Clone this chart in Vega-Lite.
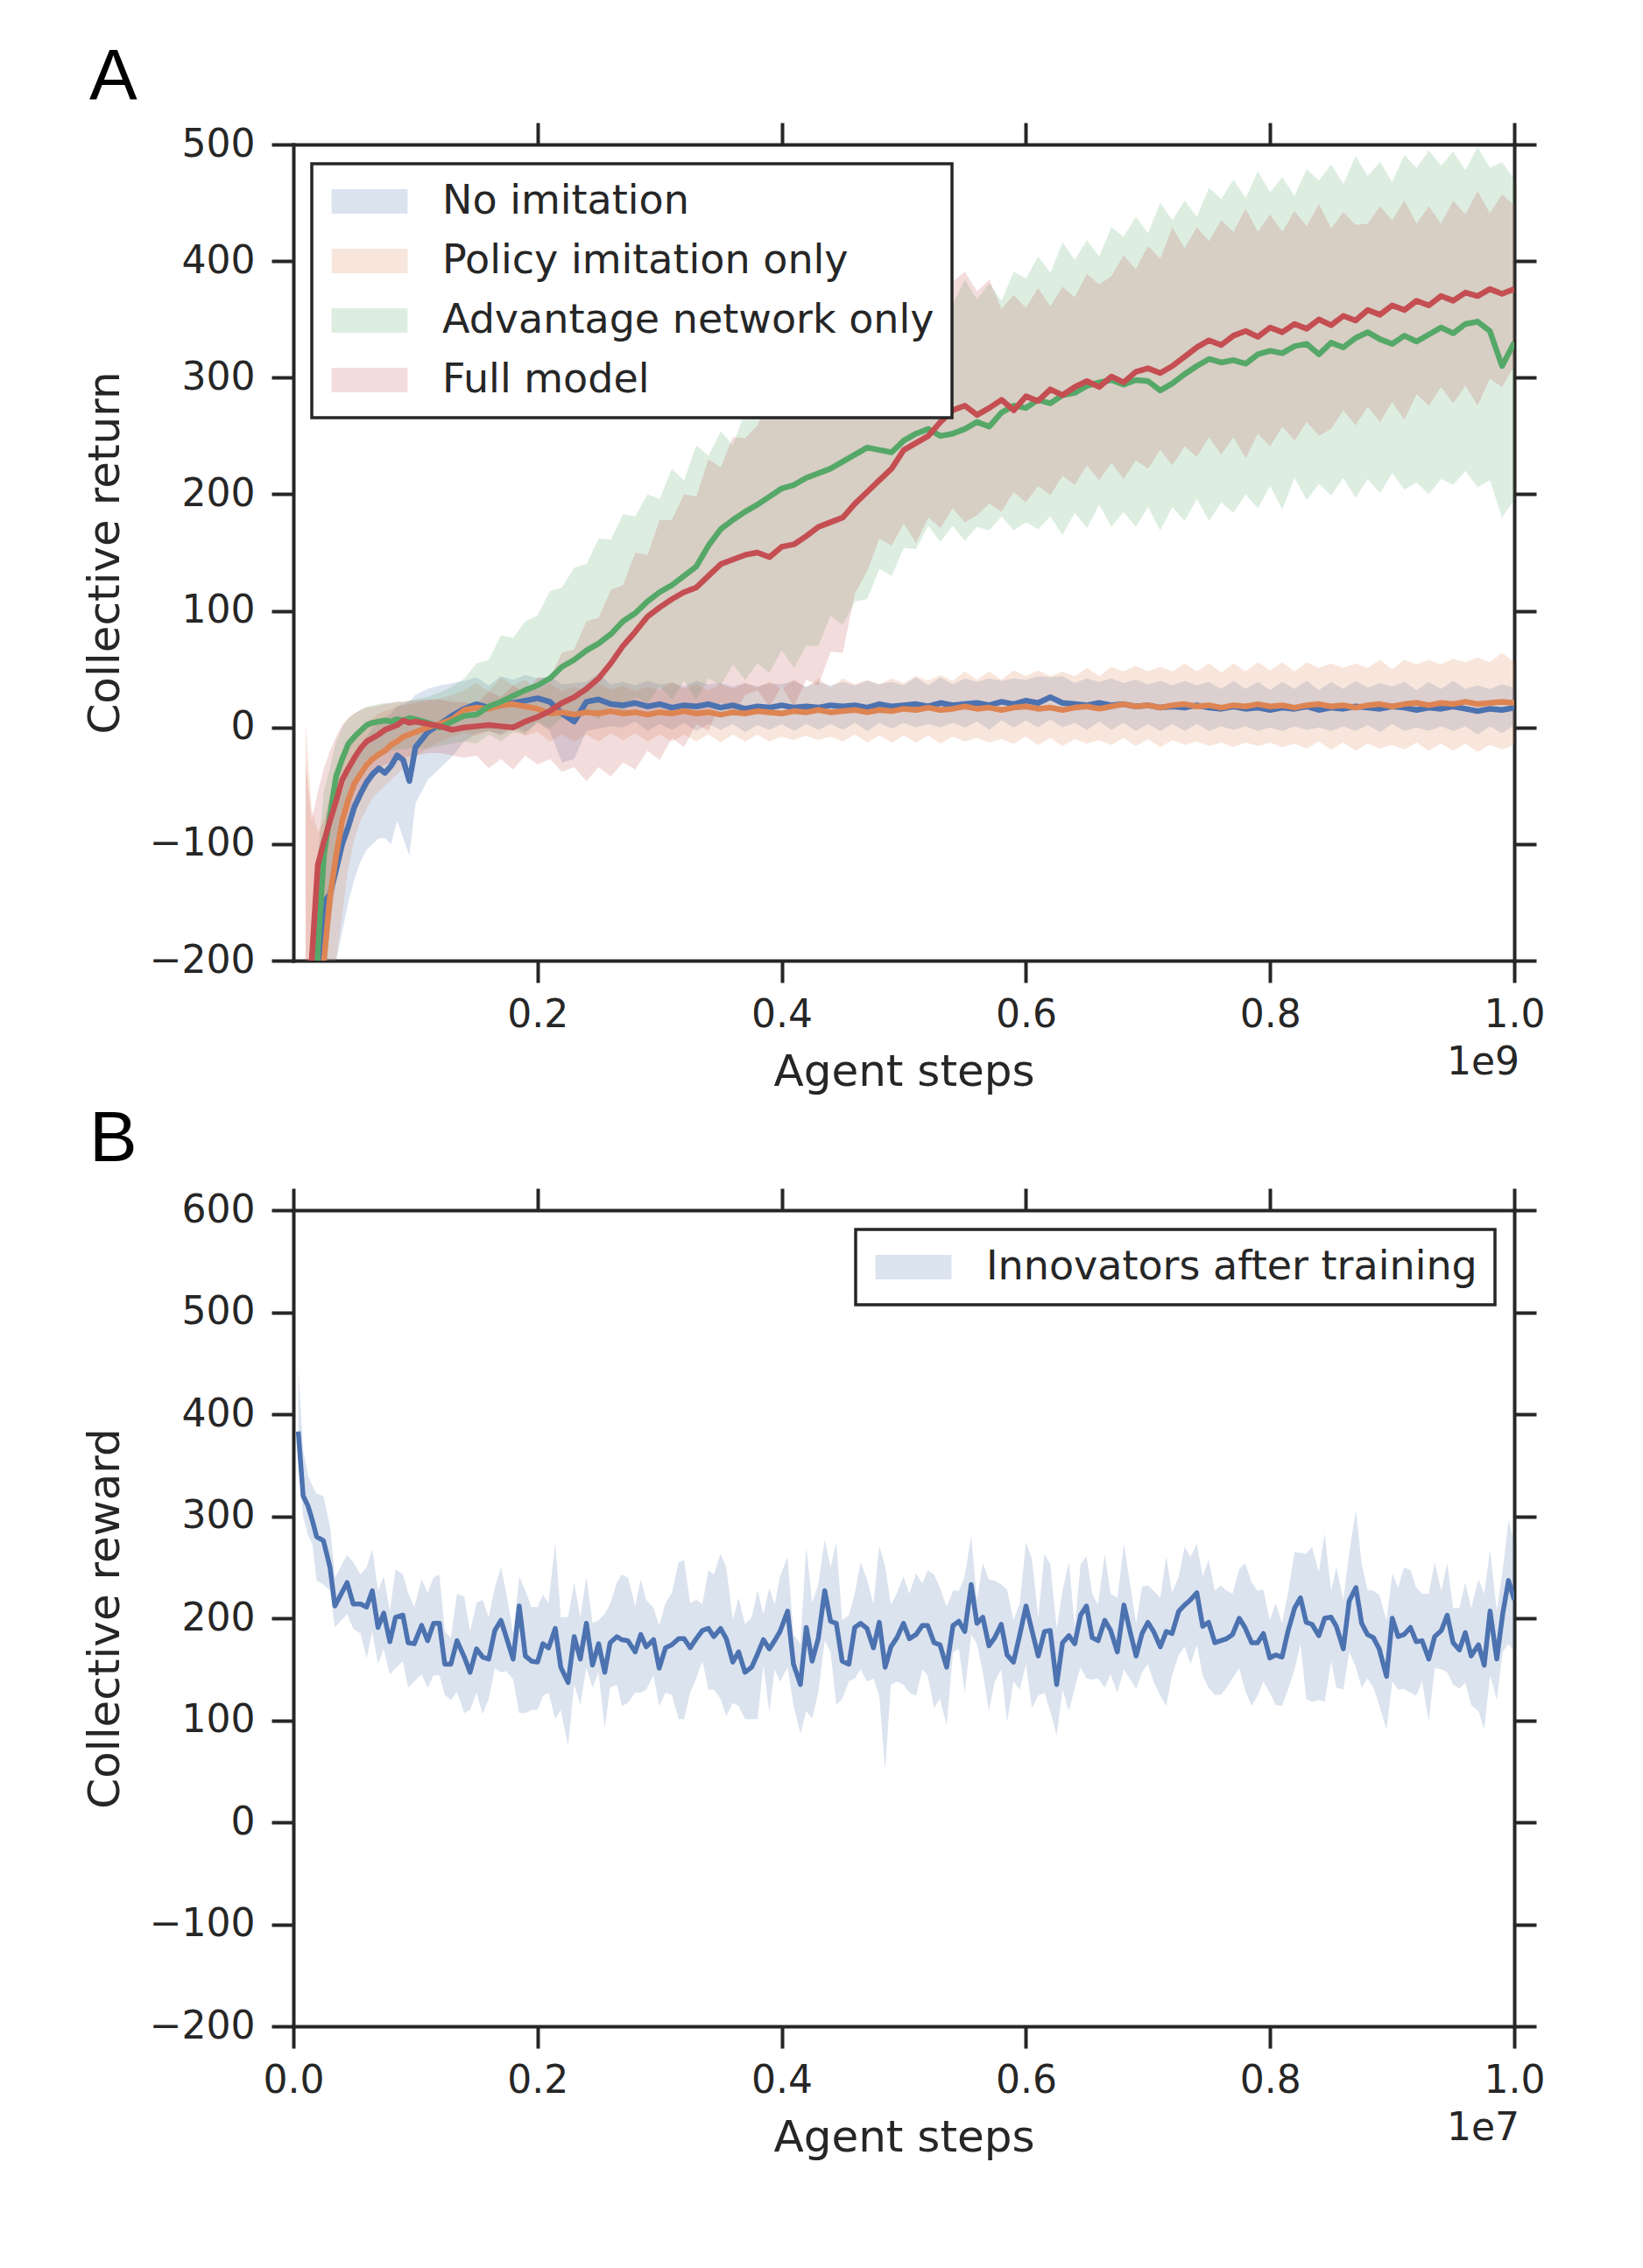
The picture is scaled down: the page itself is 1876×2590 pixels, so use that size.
{
  "$schema": "https://vega.github.io/schema/vega-lite/v6.json",
  "background": "white",
  "padding": {"left": 95, "top": 47, "right": 40, "bottom": 40},
  "spacing": 11,
  "resolve": {"scale": {"fill": "independent", "stroke": "independent"}, "legend": {"fill": "independent"}},
  "config": {
    "view": {"stroke": null},
    "font": "DejaVu Sans",
    "axis": {
      "domainColor": "#262626", "domainWidth": 4, "domainCap": "square",
      "tickColor": "#262626", "tickWidth": 4, "tickSize": 25,
      "labelFont": "DejaVu Sans", "labelFontSize": 44, "labelColor": "#262626", "labelPadding": 15,
      "labelOverlap": false, "labelFlush": false,
      "titleFont": "DejaVu Sans", "titleFontSize": 50, "titleFontWeight": "normal", "titleColor": "#262626", "titlePadding": 18,
      "grid": false
    },
    "legend": {
      "fillColor": "white", "strokeColor": "#262626", "strokeWidth": 3.5, "cornerRadius": 0,
      "padding": 20, "rowPadding": 22,
      "symbolType": "M-3.1,-1H3.1V1H-3.1Z", "symbolSize": 784, "symbolOffset": 23, "symbolOpacity": 0.2, "symbolStrokeWidth": 0,
      "labelFont": "DejaVu Sans", "labelFontSize": 46, "labelColor": "#262626", "labelOffset": 60, "labelLimit": 1000
    },
    "title": {"font": "Liberation Sans", "fontSize": 82, "fontWeight": "normal", "color": "black", "anchor": "start", "frame": "group"}
  },
  "datasets": {
    "a": [
      {"s":"No imitation","x":0.015,"y":-300,"lo":-420,"hi":-220},
      {"s":"No imitation","x":0.02,"y":-215,"lo":-330,"hi":-130},
      {"s":"No imitation","x":0.025,"y":-150,"lo":-270,"hi":-100},
      {"s":"No imitation","x":0.03,"y":-143,"lo":-240,"hi":-90},
      {"s":"No imitation","x":0.035,"y":-122,"lo":-200,"hi":-70},
      {"s":"No imitation","x":0.04,"y":-100,"lo":-175,"hi":-55},
      {"s":"No imitation","x":0.045,"y":-85,"lo":-150,"hi":-40},
      {"s":"No imitation","x":0.05,"y":-68,"lo":-130,"hi":-25},
      {"s":"No imitation","x":0.055,"y":-57,"lo":-115,"hi":-15},
      {"s":"No imitation","x":0.06,"y":-47,"lo":-105,"hi":-8},
      {"s":"No imitation","x":0.065,"y":-40,"lo":-100,"hi":0},
      {"s":"No imitation","x":0.07,"y":-35,"lo":-95,"hi":5},
      {"s":"No imitation","x":0.075,"y":-39,"lo":-95,"hi":8},
      {"s":"No imitation","x":0.08,"y":-33,"lo":-100,"hi":12},
      {"s":"No imitation","x":0.085,"y":-24,"lo":-80,"hi":18},
      {"s":"No imitation","x":0.09,"y":-28,"lo":-95,"hi":20},
      {"s":"No imitation","x":0.095,"y":-46,"lo":-110,"hi":22},
      {"s":"No imitation","x":0.1,"y":-17,"lo":-65,"hi":28},
      {"s":"No imitation","x":0.11,"y":-4,"lo":-45,"hi":33},
      {"s":"No imitation","x":0.12,"y":3,"lo":-35,"hi":36},
      {"s":"No imitation","x":0.13,"y":10,"lo":-25,"hi":38},
      {"s":"No imitation","x":0.14,"y":16,"lo":-12,"hi":40},
      {"s":"No imitation","x":0.15,"y":20,"lo":-5,"hi":43},
      {"s":"No imitation","x":0.16,"y":17,"lo":-3,"hi":36},
      {"s":"No imitation","x":0.17,"y":19,"lo":-6,"hi":44},
      {"s":"No imitation","x":0.18,"y":21,"lo":1,"hi":41},
      {"s":"No imitation","x":0.19,"y":23,"lo":-4,"hi":45},
      {"s":"No imitation","x":0.2,"y":25,"lo":4,"hi":42},
      {"s":"No imitation","x":0.21,"y":22,"lo":-3,"hi":44},
      {"s":"No imitation","x":0.22,"y":12,"lo":-30,"hi":37},
      {"s":"No imitation","x":0.23,"y":5,"lo":-27,"hi":38},
      {"s":"No imitation","x":0.24,"y":22,"lo":-3,"hi":39},
      {"s":"No imitation","x":0.25,"y":24,"lo":-1,"hi":46},
      {"s":"No imitation","x":0.26,"y":20,"lo":1,"hi":37},
      {"s":"No imitation","x":0.27,"y":19,"lo":0,"hi":39},
      {"s":"No imitation","x":0.28,"y":21,"lo":5,"hi":36},
      {"s":"No imitation","x":0.29,"y":18,"lo":-3,"hi":40},
      {"s":"No imitation","x":0.3,"y":20,"lo":3,"hi":37},
      {"s":"No imitation","x":0.31,"y":17,"lo":-2,"hi":38},
      {"s":"No imitation","x":0.32,"y":19,"lo":4,"hi":35},
      {"s":"No imitation","x":0.33,"y":18,"lo":-3,"hi":40},
      {"s":"No imitation","x":0.34,"y":20,"lo":3,"hi":37},
      {"s":"No imitation","x":0.35,"y":17,"lo":-2,"hi":38},
      {"s":"No imitation","x":0.36,"y":19,"lo":3,"hi":35},
      {"s":"No imitation","x":0.37,"y":16,"lo":-4,"hi":38},
      {"s":"No imitation","x":0.38,"y":18,"lo":2,"hi":35},
      {"s":"No imitation","x":0.39,"y":17,"lo":-2,"hi":38},
      {"s":"No imitation","x":0.4,"y":19,"lo":3,"hi":37},
      {"s":"No imitation","x":0.41,"y":17,"lo":-3,"hi":40},
      {"s":"No imitation","x":0.42,"y":18,"lo":3,"hi":35},
      {"s":"No imitation","x":0.43,"y":17,"lo":-2,"hi":39},
      {"s":"No imitation","x":0.44,"y":19,"lo":3,"hi":36},
      {"s":"No imitation","x":0.45,"y":18,"lo":-2,"hi":39},
      {"s":"No imitation","x":0.46,"y":19,"lo":4,"hi":36},
      {"s":"No imitation","x":0.47,"y":17,"lo":-3,"hi":40},
      {"s":"No imitation","x":0.48,"y":20,"lo":4,"hi":37},
      {"s":"No imitation","x":0.49,"y":18,"lo":-1,"hi":39},
      {"s":"No imitation","x":0.5,"y":19,"lo":4,"hi":36},
      {"s":"No imitation","x":0.51,"y":20,"lo":0,"hi":43},
      {"s":"No imitation","x":0.52,"y":18,"lo":3,"hi":36},
      {"s":"No imitation","x":0.53,"y":21,"lo":0,"hi":43},
      {"s":"No imitation","x":0.54,"y":19,"lo":4,"hi":37},
      {"s":"No imitation","x":0.55,"y":20,"lo":0,"hi":42},
      {"s":"No imitation","x":0.56,"y":21,"lo":5,"hi":39},
      {"s":"No imitation","x":0.57,"y":19,"lo":-2,"hi":42},
      {"s":"No imitation","x":0.58,"y":22,"lo":6,"hi":40},
      {"s":"No imitation","x":0.59,"y":20,"lo":0,"hi":42},
      {"s":"No imitation","x":0.6,"y":23,"lo":6,"hi":41},
      {"s":"No imitation","x":0.61,"y":21,"lo":0,"hi":44},
      {"s":"No imitation","x":0.62,"y":26,"lo":7,"hi":43},
      {"s":"No imitation","x":0.63,"y":21,"lo":0,"hi":44},
      {"s":"No imitation","x":0.64,"y":20,"lo":4,"hi":38},
      {"s":"No imitation","x":0.65,"y":19,"lo":-2,"hi":42},
      {"s":"No imitation","x":0.66,"y":21,"lo":5,"hi":39},
      {"s":"No imitation","x":0.67,"y":19,"lo":-2,"hi":42},
      {"s":"No imitation","x":0.68,"y":20,"lo":4,"hi":38},
      {"s":"No imitation","x":0.69,"y":18,"lo":-3,"hi":41},
      {"s":"No imitation","x":0.7,"y":19,"lo":3,"hi":37},
      {"s":"No imitation","x":0.71,"y":17,"lo":-3,"hi":40},
      {"s":"No imitation","x":0.72,"y":18,"lo":3,"hi":36},
      {"s":"No imitation","x":0.73,"y":17,"lo":-3,"hi":40},
      {"s":"No imitation","x":0.74,"y":19,"lo":3,"hi":36},
      {"s":"No imitation","x":0.75,"y":17,"lo":-3,"hi":39},
      {"s":"No imitation","x":0.76,"y":16,"lo":1,"hi":33},
      {"s":"No imitation","x":0.77,"y":18,"lo":-2,"hi":40},
      {"s":"No imitation","x":0.78,"y":16,"lo":1,"hi":33},
      {"s":"No imitation","x":0.79,"y":17,"lo":-3,"hi":39},
      {"s":"No imitation","x":0.8,"y":15,"lo":0,"hi":32},
      {"s":"No imitation","x":0.81,"y":17,"lo":-3,"hi":39},
      {"s":"No imitation","x":0.82,"y":16,"lo":1,"hi":33},
      {"s":"No imitation","x":0.83,"y":18,"lo":-2,"hi":40},
      {"s":"No imitation","x":0.84,"y":15,"lo":0,"hi":32},
      {"s":"No imitation","x":0.85,"y":17,"lo":-3,"hi":39},
      {"s":"No imitation","x":0.86,"y":16,"lo":1,"hi":33},
      {"s":"No imitation","x":0.87,"y":18,"lo":-3,"hi":40},
      {"s":"No imitation","x":0.88,"y":17,"lo":2,"hi":34},
      {"s":"No imitation","x":0.89,"y":16,"lo":-4,"hi":38},
      {"s":"No imitation","x":0.9,"y":18,"lo":3,"hi":35},
      {"s":"No imitation","x":0.91,"y":17,"lo":-3,"hi":39},
      {"s":"No imitation","x":0.92,"y":15,"lo":0,"hi":32},
      {"s":"No imitation","x":0.93,"y":17,"lo":-3,"hi":39},
      {"s":"No imitation","x":0.94,"y":16,"lo":1,"hi":33},
      {"s":"No imitation","x":0.95,"y":18,"lo":-3,"hi":40},
      {"s":"No imitation","x":0.96,"y":16,"lo":1,"hi":33},
      {"s":"No imitation","x":0.97,"y":14,"lo":-6,"hi":36},
      {"s":"No imitation","x":0.98,"y":16,"lo":1,"hi":33},
      {"s":"No imitation","x":0.99,"y":15,"lo":-5,"hi":37},
      {"s":"No imitation","x":1.0,"y":17,"lo":2,"hi":34},

      {"s":"Policy imitation only","x":0.01,"y":-350,"lo":-500,"hi":5},
      {"s":"Policy imitation only","x":0.015,"y":-330,"lo":-450,"hi":-70},
      {"s":"Policy imitation only","x":0.02,"y":-280,"lo":-400,"hi":-90},
      {"s":"Policy imitation only","x":0.025,"y":-200,"lo":-330,"hi":-80},
      {"s":"Policy imitation only","x":0.03,"y":-145,"lo":-260,"hi":-60},
      {"s":"Policy imitation only","x":0.035,"y":-110,"lo":-200,"hi":-45},
      {"s":"Policy imitation only","x":0.04,"y":-80,"lo":-160,"hi":-30},
      {"s":"Policy imitation only","x":0.045,"y":-62,"lo":-120,"hi":-18},
      {"s":"Policy imitation only","x":0.05,"y":-48,"lo":-95,"hi":-8},
      {"s":"Policy imitation only","x":0.055,"y":-40,"lo":-80,"hi":0},
      {"s":"Policy imitation only","x":0.06,"y":-32,"lo":-70,"hi":5},
      {"s":"Policy imitation only","x":0.065,"y":-27,"lo":-60,"hi":8},
      {"s":"Policy imitation only","x":0.07,"y":-23,"lo":-55,"hi":12},
      {"s":"Policy imitation only","x":0.075,"y":-20,"lo":-50,"hi":14},
      {"s":"Policy imitation only","x":0.08,"y":-15,"lo":-45,"hi":16},
      {"s":"Policy imitation only","x":0.085,"y":-12,"lo":-40,"hi":18},
      {"s":"Policy imitation only","x":0.09,"y":-8,"lo":-35,"hi":19},
      {"s":"Policy imitation only","x":0.095,"y":-6,"lo":-30,"hi":20},
      {"s":"Policy imitation only","x":0.1,"y":-4,"lo":-25,"hi":21},
      {"s":"Policy imitation only","x":0.11,"y":0,"lo":-18,"hi":23},
      {"s":"Policy imitation only","x":0.12,"y":3,"lo":-12,"hi":25},
      {"s":"Policy imitation only","x":0.13,"y":7,"lo":-8,"hi":28},
      {"s":"Policy imitation only","x":0.14,"y":15,"lo":-5,"hi":32},
      {"s":"Policy imitation only","x":0.15,"y":17,"lo":-7,"hi":38},
      {"s":"Policy imitation only","x":0.16,"y":16,"lo":-3,"hi":31},
      {"s":"Policy imitation only","x":0.17,"y":19,"lo":-7,"hi":43},
      {"s":"Policy imitation only","x":0.18,"y":20,"lo":-1,"hi":36},
      {"s":"Policy imitation only","x":0.19,"y":18,"lo":-7,"hi":41},
      {"s":"Policy imitation only","x":0.2,"y":16,"lo":-4,"hi":32},
      {"s":"Policy imitation only","x":0.21,"y":12,"lo":-12,"hi":38},
      {"s":"Policy imitation only","x":0.22,"y":13,"lo":-6,"hi":31},
      {"s":"Policy imitation only","x":0.23,"y":11,"lo":-12,"hi":35},
      {"s":"Policy imitation only","x":0.24,"y":13,"lo":-6,"hi":30},
      {"s":"Policy imitation only","x":0.25,"y":12,"lo":-12,"hi":38},
      {"s":"Policy imitation only","x":0.26,"y":14,"lo":-5,"hi":32},
      {"s":"Policy imitation only","x":0.27,"y":12,"lo":-11,"hi":36},
      {"s":"Policy imitation only","x":0.28,"y":13,"lo":-5,"hi":31},
      {"s":"Policy imitation only","x":0.29,"y":11,"lo":-12,"hi":35},
      {"s":"Policy imitation only","x":0.3,"y":13,"lo":-6,"hi":32},
      {"s":"Policy imitation only","x":0.31,"y":12,"lo":-12,"hi":39},
      {"s":"Policy imitation only","x":0.32,"y":14,"lo":-6,"hi":33},
      {"s":"Policy imitation only","x":0.33,"y":12,"lo":-12,"hi":37},
      {"s":"Policy imitation only","x":0.34,"y":13,"lo":-6,"hi":32},
      {"s":"Policy imitation only","x":0.35,"y":11,"lo":-13,"hi":37},
      {"s":"Policy imitation only","x":0.36,"y":13,"lo":-6,"hi":33},
      {"s":"Policy imitation only","x":0.37,"y":12,"lo":-12,"hi":38},
      {"s":"Policy imitation only","x":0.38,"y":14,"lo":-6,"hi":34},
      {"s":"Policy imitation only","x":0.39,"y":13,"lo":-12,"hi":39},
      {"s":"Policy imitation only","x":0.4,"y":12,"lo":-8,"hi":33},
      {"s":"Policy imitation only","x":0.41,"y":14,"lo":-11,"hi":41},
      {"s":"Policy imitation only","x":0.42,"y":13,"lo":-7,"hi":34},
      {"s":"Policy imitation only","x":0.43,"y":15,"lo":-11,"hi":42},
      {"s":"Policy imitation only","x":0.44,"y":13,"lo":-8,"hi":34},
      {"s":"Policy imitation only","x":0.45,"y":14,"lo":-12,"hi":42},
      {"s":"Policy imitation only","x":0.46,"y":15,"lo":-6,"hi":37},
      {"s":"Policy imitation only","x":0.47,"y":13,"lo":-13,"hi":41},
      {"s":"Policy imitation only","x":0.48,"y":15,"lo":-7,"hi":37},
      {"s":"Policy imitation only","x":0.49,"y":14,"lo":-13,"hi":42},
      {"s":"Policy imitation only","x":0.5,"y":16,"lo":-7,"hi":38},
      {"s":"Policy imitation only","x":0.51,"y":15,"lo":-13,"hi":44},
      {"s":"Policy imitation only","x":0.52,"y":17,"lo":-7,"hi":40},
      {"s":"Policy imitation only","x":0.53,"y":15,"lo":-14,"hi":45},
      {"s":"Policy imitation only","x":0.54,"y":16,"lo":-8,"hi":40},
      {"s":"Policy imitation only","x":0.55,"y":18,"lo":-12,"hi":48},
      {"s":"Policy imitation only","x":0.56,"y":16,"lo":-9,"hi":41},
      {"s":"Policy imitation only","x":0.57,"y":17,"lo":-13,"hi":48},
      {"s":"Policy imitation only","x":0.58,"y":15,"lo":-10,"hi":41},
      {"s":"Policy imitation only","x":0.59,"y":17,"lo":-14,"hi":49},
      {"s":"Policy imitation only","x":0.6,"y":18,"lo":-8,"hi":44},
      {"s":"Policy imitation only","x":0.61,"y":16,"lo":-15,"hi":49},
      {"s":"Policy imitation only","x":0.62,"y":17,"lo":-9,"hi":44},
      {"s":"Policy imitation only","x":0.63,"y":15,"lo":-16,"hi":48},
      {"s":"Policy imitation only","x":0.64,"y":17,"lo":-10,"hi":44},
      {"s":"Policy imitation only","x":0.65,"y":18,"lo":-14,"hi":51},
      {"s":"Policy imitation only","x":0.66,"y":16,"lo":-11,"hi":44},
      {"s":"Policy imitation only","x":0.67,"y":18,"lo":-15,"hi":52},
      {"s":"Policy imitation only","x":0.68,"y":20,"lo":-9,"hi":48},
      {"s":"Policy imitation only","x":0.69,"y":18,"lo":-16,"hi":53},
      {"s":"Policy imitation only","x":0.7,"y":19,"lo":-10,"hi":48},
      {"s":"Policy imitation only","x":0.71,"y":17,"lo":-17,"hi":52},
      {"s":"Policy imitation only","x":0.72,"y":19,"lo":-11,"hi":48},
      {"s":"Policy imitation only","x":0.73,"y":20,"lo":-15,"hi":55},
      {"s":"Policy imitation only","x":0.74,"y":18,"lo":-12,"hi":48},
      {"s":"Policy imitation only","x":0.75,"y":19,"lo":-16,"hi":55},
      {"s":"Policy imitation only","x":0.76,"y":17,"lo":-13,"hi":47},
      {"s":"Policy imitation only","x":0.77,"y":19,"lo":-17,"hi":55},
      {"s":"Policy imitation only","x":0.78,"y":18,"lo":-13,"hi":48},
      {"s":"Policy imitation only","x":0.79,"y":20,"lo":-16,"hi":56},
      {"s":"Policy imitation only","x":0.8,"y":18,"lo":-13,"hi":49},
      {"s":"Policy imitation only","x":0.81,"y":19,"lo":-17,"hi":56},
      {"s":"Policy imitation only","x":0.82,"y":17,"lo":-14,"hi":48},
      {"s":"Policy imitation only","x":0.83,"y":19,"lo":-18,"hi":56},
      {"s":"Policy imitation only","x":0.84,"y":20,"lo":-12,"hi":51},
      {"s":"Policy imitation only","x":0.85,"y":18,"lo":-19,"hi":55},
      {"s":"Policy imitation only","x":0.86,"y":19,"lo":-13,"hi":51},
      {"s":"Policy imitation only","x":0.87,"y":17,"lo":-20,"hi":55},
      {"s":"Policy imitation only","x":0.88,"y":19,"lo":-14,"hi":51},
      {"s":"Policy imitation only","x":0.89,"y":20,"lo":-18,"hi":58},
      {"s":"Policy imitation only","x":0.9,"y":18,"lo":-15,"hi":50},
      {"s":"Policy imitation only","x":0.91,"y":20,"lo":-19,"hi":58},
      {"s":"Policy imitation only","x":0.92,"y":21,"lo":-13,"hi":54},
      {"s":"Policy imitation only","x":0.93,"y":19,"lo":-20,"hi":58},
      {"s":"Policy imitation only","x":0.94,"y":21,"lo":-14,"hi":54},
      {"s":"Policy imitation only","x":0.95,"y":20,"lo":-20,"hi":59},
      {"s":"Policy imitation only","x":0.96,"y":22,"lo":-14,"hi":56},
      {"s":"Policy imitation only","x":0.97,"y":20,"lo":-21,"hi":60},
      {"s":"Policy imitation only","x":0.98,"y":21,"lo":-15,"hi":56},
      {"s":"Policy imitation only","x":0.99,"y":22,"lo":-19,"hi":64},
      {"s":"Policy imitation only","x":1.0,"y":21,"lo":-15,"hi":56},

      {"s":"Advantage network only","x":0.01,"y":-400,"lo":-500,"hi":-300},
      {"s":"Advantage network only","x":0.015,"y":-330,"lo":-450,"hi":-230},
      {"s":"Advantage network only","x":0.02,"y":-190,"lo":-320,"hi":-110},
      {"s":"Advantage network only","x":0.025,"y":-110,"lo":-230,"hi":-55},
      {"s":"Advantage network only","x":0.03,"y":-75,"lo":-170,"hi":-35},
      {"s":"Advantage network only","x":0.035,"y":-42,"lo":-110,"hi":-12},
      {"s":"Advantage network only","x":0.04,"y":-27,"lo":-80,"hi":0},
      {"s":"Advantage network only","x":0.045,"y":-14,"lo":-60,"hi":8},
      {"s":"Advantage network only","x":0.05,"y":-8,"lo":-45,"hi":12},
      {"s":"Advantage network only","x":0.055,"y":-3,"lo":-35,"hi":15},
      {"s":"Advantage network only","x":0.06,"y":2,"lo":-28,"hi":18},
      {"s":"Advantage network only","x":0.065,"y":4,"lo":-24,"hi":19},
      {"s":"Advantage network only","x":0.07,"y":5,"lo":-22,"hi":20},
      {"s":"Advantage network only","x":0.075,"y":6,"lo":-20,"hi":21},
      {"s":"Advantage network only","x":0.08,"y":5,"lo":-20,"hi":21},
      {"s":"Advantage network only","x":0.085,"y":7,"lo":-19,"hi":22},
      {"s":"Advantage network only","x":0.09,"y":6,"lo":-19,"hi":22},
      {"s":"Advantage network only","x":0.095,"y":8,"lo":-18,"hi":23},
      {"s":"Advantage network only","x":0.1,"y":7,"lo":-18,"hi":24},
      {"s":"Advantage network only","x":0.11,"y":4,"lo":-18,"hi":26},
      {"s":"Advantage network only","x":0.12,"y":0,"lo":-16,"hi":30},
      {"s":"Advantage network only","x":0.13,"y":5,"lo":-14,"hi":35},
      {"s":"Advantage network only","x":0.14,"y":10,"lo":-12,"hi":42},
      {"s":"Advantage network only","x":0.15,"y":11,"lo":-14,"hi":55},
      {"s":"Advantage network only","x":0.16,"y":18,"lo":-6,"hi":58},
      {"s":"Advantage network only","x":0.17,"y":22,"lo":-12,"hi":79},
      {"s":"Advantage network only","x":0.18,"y":27,"lo":-4,"hi":77},
      {"s":"Advantage network only","x":0.19,"y":32,"lo":-6,"hi":91},
      {"s":"Advantage network only","x":0.2,"y":36,"lo":5,"hi":96},
      {"s":"Advantage network only","x":0.21,"y":42,"lo":-1,"hi":117},
      {"s":"Advantage network only","x":0.22,"y":52,"lo":8,"hi":120},
      {"s":"Advantage network only","x":0.23,"y":58,"lo":4,"hi":137},
      {"s":"Advantage network only","x":0.24,"y":66,"lo":13,"hi":140},
      {"s":"Advantage network only","x":0.25,"y":72,"lo":7,"hi":162},
      {"s":"Advantage network only","x":0.26,"y":80,"lo":19,"hi":161},
      {"s":"Advantage network only","x":0.27,"y":91,"lo":13,"hi":183},
      {"s":"Advantage network only","x":0.28,"y":98,"lo":26,"hi":181},
      {"s":"Advantage network only","x":0.29,"y":108,"lo":21,"hi":200},
      {"s":"Advantage network only","x":0.3,"y":116,"lo":35,"hi":196},
      {"s":"Advantage network only","x":0.31,"y":122,"lo":24,"hi":222},
      {"s":"Advantage network only","x":0.32,"y":130,"lo":40,"hi":212},
      {"s":"Advantage network only","x":0.33,"y":138,"lo":24,"hi":242},
      {"s":"Advantage network only","x":0.34,"y":156,"lo":42,"hi":233},
      {"s":"Advantage network only","x":0.35,"y":170,"lo":36,"hi":254},
      {"s":"Advantage network only","x":0.36,"y":178,"lo":54,"hi":242},
      {"s":"Advantage network only","x":0.37,"y":185,"lo":41,"hi":271},
      {"s":"Advantage network only","x":0.38,"y":191,"lo":55,"hi":267},
      {"s":"Advantage network only","x":0.39,"y":198,"lo":47,"hi":286},
      {"s":"Advantage network only","x":0.4,"y":205,"lo":66,"hi":276},
      {"s":"Advantage network only","x":0.41,"y":208,"lo":51,"hi":304},
      {"s":"Advantage network only","x":0.42,"y":214,"lo":70,"hi":291},
      {"s":"Advantage network only","x":0.43,"y":218,"lo":70,"hi":308},
      {"s":"Advantage network only","x":0.44,"y":222,"lo":96,"hi":296},
      {"s":"Advantage network only","x":0.45,"y":228,"lo":88,"hi":323},
      {"s":"Advantage network only","x":0.46,"y":234,"lo":108,"hi":315},
      {"s":"Advantage network only","x":0.47,"y":240,"lo":110,"hi":333},
      {"s":"Advantage network only","x":0.48,"y":238,"lo":136,"hi":320},
      {"s":"Advantage network only","x":0.49,"y":236,"lo":130,"hi":347},
      {"s":"Advantage network only","x":0.5,"y":246,"lo":154,"hi":333},
      {"s":"Advantage network only","x":0.51,"y":252,"lo":153,"hi":350},
      {"s":"Advantage network only","x":0.52,"y":256,"lo":173,"hi":338},
      {"s":"Advantage network only","x":0.53,"y":250,"lo":159,"hi":367},
      {"s":"Advantage network only","x":0.54,"y":252,"lo":173,"hi":363},
      {"s":"Advantage network only","x":0.55,"y":256,"lo":160,"hi":384},
      {"s":"Advantage network only","x":0.56,"y":262,"lo":172,"hi":367},
      {"s":"Advantage network only","x":0.57,"y":258,"lo":169,"hi":381},
      {"s":"Advantage network only","x":0.58,"y":270,"lo":181,"hi":366},
      {"s":"Advantage network only","x":0.59,"y":276,"lo":169,"hi":391},
      {"s":"Advantage network only","x":0.6,"y":274,"lo":176,"hi":385},
      {"s":"Advantage network only","x":0.61,"y":281,"lo":170,"hi":404},
      {"s":"Advantage network only","x":0.62,"y":278,"lo":181,"hi":390},
      {"s":"Advantage network only","x":0.63,"y":285,"lo":165,"hi":416},
      {"s":"Advantage network only","x":0.64,"y":287,"lo":184,"hi":401},
      {"s":"Advantage network only","x":0.65,"y":293,"lo":171,"hi":418},
      {"s":"Advantage network only","x":0.66,"y":296,"lo":191,"hi":404},
      {"s":"Advantage network only","x":0.67,"y":298,"lo":172,"hi":429},
      {"s":"Advantage network only","x":0.68,"y":294,"lo":185,"hi":421},
      {"s":"Advantage network only","x":0.69,"y":298,"lo":172,"hi":438},
      {"s":"Advantage network only","x":0.7,"y":297,"lo":189,"hi":424},
      {"s":"Advantage network only","x":0.71,"y":289,"lo":169,"hi":450},
      {"s":"Advantage network only","x":0.72,"y":295,"lo":189,"hi":435},
      {"s":"Advantage network only","x":0.73,"y":303,"lo":177,"hi":452},
      {"s":"Advantage network only","x":0.74,"y":310,"lo":196,"hi":438},
      {"s":"Advantage network only","x":0.75,"y":316,"lo":177,"hi":463},
      {"s":"Advantage network only","x":0.76,"y":313,"lo":193,"hi":453},
      {"s":"Advantage network only","x":0.77,"y":315,"lo":184,"hi":470},
      {"s":"Advantage network only","x":0.78,"y":312,"lo":200,"hi":454},
      {"s":"Advantage network only","x":0.79,"y":320,"lo":188,"hi":477},
      {"s":"Advantage network only","x":0.8,"y":323,"lo":207,"hi":459},
      {"s":"Advantage network only","x":0.81,"y":321,"lo":187,"hi":472},
      {"s":"Advantage network only","x":0.82,"y":327,"lo":214,"hi":456},
      {"s":"Advantage network only","x":0.83,"y":329,"lo":195,"hi":479},
      {"s":"Advantage network only","x":0.84,"y":320,"lo":209,"hi":469},
      {"s":"Advantage network only","x":0.85,"y":330,"lo":199,"hi":483},
      {"s":"Advantage network only","x":0.86,"y":326,"lo":214,"hi":466},
      {"s":"Advantage network only","x":0.87,"y":334,"lo":197,"hi":490},
      {"s":"Advantage network only","x":0.88,"y":339,"lo":213,"hi":473},
      {"s":"Advantage network only","x":0.89,"y":333,"lo":201,"hi":485},
      {"s":"Advantage network only","x":0.9,"y":329,"lo":218,"hi":468},
      {"s":"Advantage network only","x":0.91,"y":336,"lo":204,"hi":491},
      {"s":"Advantage network only","x":0.92,"y":331,"lo":210,"hi":480},
      {"s":"Advantage network only","x":0.93,"y":337,"lo":200,"hi":495},
      {"s":"Advantage network only","x":0.94,"y":343,"lo":213,"hi":482},
      {"s":"Advantage network only","x":0.95,"y":338,"lo":208,"hi":494},
      {"s":"Advantage network only","x":0.96,"y":346,"lo":220,"hi":478},
      {"s":"Advantage network only","x":0.97,"y":348,"lo":206,"hi":498},
      {"s":"Advantage network only","x":0.98,"y":340,"lo":212,"hi":480},
      {"s":"Advantage network only","x":0.99,"y":310,"lo":180,"hi":485},
      {"s":"Advantage network only","x":1.0,"y":330,"lo":195,"hi":470},

      {"s":"Full model","x":0.01,"y":-330,"lo":-450,"hi":-30},
      {"s":"Full model","x":0.015,"y":-200,"lo":-380,"hi":-80},
      {"s":"Full model","x":0.02,"y":-118,"lo":-280,"hi":-55},
      {"s":"Full model","x":0.025,"y":-98,"lo":-220,"hi":-35},
      {"s":"Full model","x":0.03,"y":-80,"lo":-170,"hi":-20},
      {"s":"Full model","x":0.035,"y":-63,"lo":-130,"hi":-8},
      {"s":"Full model","x":0.04,"y":-45,"lo":-100,"hi":2},
      {"s":"Full model","x":0.045,"y":-35,"lo":-80,"hi":8},
      {"s":"Full model","x":0.05,"y":-26,"lo":-65,"hi":12},
      {"s":"Full model","x":0.055,"y":-18,"lo":-55,"hi":15},
      {"s":"Full model","x":0.06,"y":-12,"lo":-45,"hi":17},
      {"s":"Full model","x":0.065,"y":-9,"lo":-40,"hi":18},
      {"s":"Full model","x":0.07,"y":-6,"lo":-35,"hi":19},
      {"s":"Full model","x":0.075,"y":-2,"lo":-32,"hi":20},
      {"s":"Full model","x":0.08,"y":0,"lo":-30,"hi":21},
      {"s":"Full model","x":0.085,"y":2,"lo":-28,"hi":22},
      {"s":"Full model","x":0.09,"y":6,"lo":-26,"hi":22},
      {"s":"Full model","x":0.095,"y":4,"lo":-25,"hi":23},
      {"s":"Full model","x":0.1,"y":5,"lo":-24,"hi":23},
      {"s":"Full model","x":0.11,"y":3,"lo":-22,"hi":24},
      {"s":"Full model","x":0.12,"y":1,"lo":-22,"hi":24},
      {"s":"Full model","x":0.13,"y":-2,"lo":-24,"hi":22},
      {"s":"Full model","x":0.14,"y":0,"lo":-26,"hi":22},
      {"s":"Full model","x":0.15,"y":1,"lo":-24,"hi":20},
      {"s":"Full model","x":0.16,"y":2,"lo":-35,"hi":31},
      {"s":"Full model","x":0.17,"y":1,"lo":-27,"hi":26},
      {"s":"Full model","x":0.18,"y":0,"lo":-36,"hi":36},
      {"s":"Full model","x":0.19,"y":5,"lo":-24,"hi":29},
      {"s":"Full model","x":0.2,"y":9,"lo":-32,"hi":43},
      {"s":"Full model","x":0.21,"y":14,"lo":-27,"hi":42},
      {"s":"Full model","x":0.22,"y":21,"lo":-38,"hi":64},
      {"s":"Full model","x":0.23,"y":26,"lo":-34,"hi":67},
      {"s":"Full model","x":0.24,"y":33,"lo":-46,"hi":91},
      {"s":"Full model","x":0.25,"y":42,"lo":-34,"hi":94},
      {"s":"Full model","x":0.26,"y":55,"lo":-42,"hi":118},
      {"s":"Full model","x":0.27,"y":70,"lo":-30,"hi":122},
      {"s":"Full model","x":0.28,"y":82,"lo":-36,"hi":150},
      {"s":"Full model","x":0.29,"y":95,"lo":-20,"hi":148},
      {"s":"Full model","x":0.3,"y":103,"lo":-28,"hi":178},
      {"s":"Full model","x":0.31,"y":110,"lo":-9,"hi":178},
      {"s":"Full model","x":0.32,"y":116,"lo":-17,"hi":200},
      {"s":"Full model","x":0.33,"y":120,"lo":3,"hi":198},
      {"s":"Full model","x":0.34,"y":130,"lo":-3,"hi":230},
      {"s":"Full model","x":0.35,"y":140,"lo":22,"hi":223},
      {"s":"Full model","x":0.36,"y":144,"lo":10,"hi":249},
      {"s":"Full model","x":0.37,"y":148,"lo":28,"hi":248},
      {"s":"Full model","x":0.38,"y":150,"lo":32,"hi":259},
      {"s":"Full model","x":0.39,"y":146,"lo":18,"hi":284},
      {"s":"Full model","x":0.4,"y":155,"lo":35,"hi":281},
      {"s":"Full model","x":0.41,"y":157,"lo":18,"hi":307},
      {"s":"Full model","x":0.42,"y":164,"lo":41,"hi":296},
      {"s":"Full model","x":0.43,"y":172,"lo":36,"hi":320},
      {"s":"Full model","x":0.44,"y":176,"lo":65,"hi":314},
      {"s":"Full model","x":0.45,"y":180,"lo":64,"hi":340},
      {"s":"Full model","x":0.46,"y":192,"lo":115,"hi":334},
      {"s":"Full model","x":0.47,"y":202,"lo":134,"hi":362},
      {"s":"Full model","x":0.48,"y":212,"lo":162,"hi":356},
      {"s":"Full model","x":0.49,"y":222,"lo":156,"hi":377},
      {"s":"Full model","x":0.5,"y":238,"lo":175,"hi":370},
      {"s":"Full model","x":0.51,"y":244,"lo":158,"hi":392},
      {"s":"Full model","x":0.52,"y":250,"lo":180,"hi":376},
      {"s":"Full model","x":0.53,"y":262,"lo":171,"hi":393},
      {"s":"Full model","x":0.54,"y":272,"lo":188,"hi":382},
      {"s":"Full model","x":0.55,"y":276,"lo":176,"hi":391},
      {"s":"Full model","x":0.56,"y":268,"lo":182,"hi":374},
      {"s":"Full model","x":0.57,"y":274,"lo":192,"hi":384},
      {"s":"Full model","x":0.58,"y":281,"lo":185,"hi":359},
      {"s":"Full model","x":0.59,"y":272,"lo":202,"hi":371},
      {"s":"Full model","x":0.6,"y":284,"lo":193,"hi":360},
      {"s":"Full model","x":0.61,"y":280,"lo":207,"hi":377},
      {"s":"Full model","x":0.62,"y":290,"lo":199,"hi":361},
      {"s":"Full model","x":0.63,"y":285,"lo":216,"hi":378},
      {"s":"Full model","x":0.64,"y":292,"lo":208,"hi":369},
      {"s":"Full model","x":0.65,"y":297,"lo":225,"hi":389},
      {"s":"Full model","x":0.66,"y":292,"lo":212,"hi":380},
      {"s":"Full model","x":0.67,"y":301,"lo":227,"hi":387},
      {"s":"Full model","x":0.68,"y":296,"lo":213,"hi":405},
      {"s":"Full model","x":0.69,"y":305,"lo":229,"hi":393},
      {"s":"Full model","x":0.7,"y":308,"lo":222,"hi":413},
      {"s":"Full model","x":0.71,"y":304,"lo":238,"hi":402},
      {"s":"Full model","x":0.72,"y":310,"lo":225,"hi":429},
      {"s":"Full model","x":0.73,"y":318,"lo":241,"hi":411},
      {"s":"Full model","x":0.74,"y":326,"lo":232,"hi":429},
      {"s":"Full model","x":0.75,"y":332,"lo":249,"hi":417},
      {"s":"Full model","x":0.76,"y":328,"lo":234,"hi":435},
      {"s":"Full model","x":0.77,"y":336,"lo":249,"hi":425},
      {"s":"Full model","x":0.78,"y":340,"lo":231,"hi":445},
      {"s":"Full model","x":0.79,"y":335,"lo":252,"hi":425},
      {"s":"Full model","x":0.8,"y":343,"lo":241,"hi":440},
      {"s":"Full model","x":0.81,"y":339,"lo":258,"hi":425},
      {"s":"Full model","x":0.82,"y":346,"lo":246,"hi":443},
      {"s":"Full model","x":0.83,"y":342,"lo":262,"hi":430},
      {"s":"Full model","x":0.84,"y":350,"lo":250,"hi":449},
      {"s":"Full model","x":0.85,"y":345,"lo":256,"hi":428},
      {"s":"Full model","x":0.86,"y":353,"lo":272,"hi":442},
      {"s":"Full model","x":0.87,"y":349,"lo":259,"hi":431},
      {"s":"Full model","x":0.88,"y":358,"lo":275,"hi":432},
      {"s":"Full model","x":0.89,"y":354,"lo":262,"hi":447},
      {"s":"Full model","x":0.9,"y":362,"lo":279,"hi":435},
      {"s":"Full model","x":0.91,"y":358,"lo":264,"hi":452},
      {"s":"Full model","x":0.92,"y":366,"lo":286,"hi":432},
      {"s":"Full model","x":0.93,"y":362,"lo":276,"hi":447},
      {"s":"Full model","x":0.94,"y":370,"lo":292,"hi":432},
      {"s":"Full model","x":0.95,"y":366,"lo":278,"hi":452},
      {"s":"Full model","x":0.96,"y":373,"lo":293,"hi":440},
      {"s":"Full model","x":0.97,"y":370,"lo":276,"hi":460},
      {"s":"Full model","x":0.98,"y":376,"lo":299,"hi":441},
      {"s":"Full model","x":0.99,"y":372,"lo":292,"hi":457},
      {"s":"Full model","x":1.0,"y":376,"lo":310,"hi":448}
    ],
    "b": [
      {"x":0.004,"y":383,"lo":355,"hi":445},
      {"x":0.008,"y":320,"lo":300,"hi":365},
      {"x":0.012,"y":310,"lo":281,"hi":340},
      {"x":0.0155,"y":296,"lo":273,"hi":330},
      {"x":0.019,"y":280,"lo":237,"hi":322},
      {"x":0.0246,"y":276,"lo":233,"hi":320},
      {"x":0.03,"y":250,"lo":227,"hi":290},
      {"x":0.034,"y":212,"lo":191,"hi":240},
      {"x":0.044,"y":235,"lo":204,"hi":262},
      {"x":0.049,"y":214,"lo":190,"hi":255},
      {"x":0.055,"y":214,"lo":185,"hi":243},
      {"x":0.06,"y":211,"lo":161,"hi":250},
      {"x":0.0646,"y":227,"lo":187,"hi":268},
      {"x":0.0693,"y":191,"lo":155,"hi":227},
      {"x":0.074,"y":205,"lo":170,"hi":241},
      {"x":0.079,"y":177,"lo":145,"hi":207},
      {"x":0.0837,"y":201,"lo":151,"hi":248},
      {"x":0.0897,"y":203,"lo":158,"hi":243},
      {"x":0.094,"y":176,"lo":132,"hi":225},
      {"x":0.099,"y":175,"lo":138,"hi":211},
      {"x":0.105,"y":193,"lo":145,"hi":238},
      {"x":0.11,"y":178,"lo":132,"hi":225},
      {"x":0.1148,"y":195,"lo":144,"hi":240},
      {"x":0.1196,"y":195,"lo":144,"hi":243},
      {"x":0.124,"y":155,"lo":125,"hi":187},
      {"x":0.129,"y":155,"lo":120,"hi":181},
      {"x":0.134,"y":178,"lo":128,"hi":224},
      {"x":0.14,"y":162,"lo":107,"hi":221},
      {"x":0.1447,"y":147,"lo":110,"hi":187},
      {"x":0.15,"y":170,"lo":127,"hi":215},
      {"x":0.155,"y":162,"lo":106,"hi":218},
      {"x":0.16,"y":160,"lo":121,"hi":201},
      {"x":0.165,"y":188,"lo":151,"hi":230},
      {"x":0.17,"y":198,"lo":147,"hi":250},
      {"x":0.1745,"y":181,"lo":148,"hi":224},
      {"x":0.18,"y":160,"lo":140,"hi":185},
      {"x":0.185,"y":212,"lo":107,"hi":241},
      {"x":0.19,"y":163,"lo":107,"hi":227},
      {"x":0.195,"y":158,"lo":110,"hi":211},
      {"x":0.2,"y":157,"lo":110,"hi":211},
      {"x":0.2044,"y":175,"lo":124,"hi":223},
      {"x":0.209,"y":171,"lo":127,"hi":215},
      {"x":0.2145,"y":190,"lo":101,"hi":274},
      {"x":0.219,"y":152,"lo":110,"hi":201},
      {"x":0.225,"y":137,"lo":75,"hi":201},
      {"x":0.23,"y":182,"lo":135,"hi":235},
      {"x":0.235,"y":160,"lo":115,"hi":201},
      {"x":0.24,"y":195,"lo":152,"hi":241},
      {"x":0.245,"y":154,"lo":132,"hi":195},
      {"x":0.25,"y":175,"lo":147,"hi":198},
      {"x":0.255,"y":147,"lo":92,"hi":204},
      {"x":0.2594,"y":176,"lo":132,"hi":214},
      {"x":0.265,"y":182,"lo":135,"hi":235},
      {"x":0.269,"y":179,"lo":114,"hi":243},
      {"x":0.274,"y":178,"lo":117,"hi":240},
      {"x":0.28,"y":167,"lo":127,"hi":212},
      {"x":0.2845,"y":184,"lo":127,"hi":238},
      {"x":0.289,"y":172,"lo":130,"hi":218},
      {"x":0.295,"y":179,"lo":144,"hi":210},
      {"x":0.2996,"y":151,"lo":114,"hi":193},
      {"x":0.3048,"y":171,"lo":127,"hi":215},
      {"x":0.31,"y":174,"lo":125,"hi":225},
      {"x":0.3156,"y":180,"lo":101,"hi":255},
      {"x":0.32,"y":180,"lo":101,"hi":257},
      {"x":0.325,"y":171,"lo":127,"hi":215},
      {"x":0.33,"y":180,"lo":141,"hi":218},
      {"x":0.335,"y":188,"lo":158,"hi":214},
      {"x":0.34,"y":190,"lo":130,"hi":247},
      {"x":0.3444,"y":182,"lo":130,"hi":243},
      {"x":0.3499,"y":190,"lo":121,"hi":263},
      {"x":0.3546,"y":180,"lo":104,"hi":250},
      {"x":0.3599,"y":157,"lo":117,"hi":198},
      {"x":0.3647,"y":167,"lo":114,"hi":220},
      {"x":0.3699,"y":147,"lo":101,"hi":194},
      {"x":0.3754,"y":152,"lo":101,"hi":201},
      {"x":0.3802,"y":165,"lo":101,"hi":227},
      {"x":0.385,"y":179,"lo":154,"hi":204},
      {"x":0.3898,"y":170,"lo":108,"hi":230},
      {"x":0.3942,"y":178,"lo":150,"hi":213},
      {"x":0.3986,"y":187,"lo":138,"hi":241},
      {"x":0.4048,"y":207,"lo":152,"hi":260},
      {"x":0.4096,"y":155,"lo":115,"hi":184},
      {"x":0.4153,"y":135,"lo":87,"hi":175},
      {"x":0.4201,"y":191,"lo":109,"hi":270},
      {"x":0.4249,"y":158,"lo":102,"hi":215},
      {"x":0.4299,"y":180,"lo":127,"hi":233},
      {"x":0.4352,"y":227,"lo":178,"hi":277},
      {"x":0.44,"y":197,"lo":167,"hi":250},
      {"x":0.4447,"y":195,"lo":115,"hi":274},
      {"x":0.4495,"y":158,"lo":121,"hi":198},
      {"x":0.455,"y":155,"lo":138,"hi":203},
      {"x":0.4598,"y":191,"lo":141,"hi":224},
      {"x":0.4646,"y":195,"lo":150,"hi":255},
      {"x":0.4698,"y":190,"lo":138,"hi":238},
      {"x":0.4751,"y":171,"lo":141,"hi":214},
      {"x":0.4799,"y":196,"lo":124,"hi":271},
      {"x":0.4847,"y":152,"lo":51,"hi":251},
      {"x":0.4894,"y":172,"lo":135,"hi":213},
      {"x":0.4944,"y":181,"lo":138,"hi":225},
      {"x":0.4997,"y":195,"lo":135,"hi":241},
      {"x":0.5045,"y":180,"lo":127,"hi":224},
      {"x":0.51,"y":184,"lo":124,"hi":244},
      {"x":0.5152,"y":193,"lo":150,"hi":234},
      {"x":0.5195,"y":193,"lo":144,"hi":247},
      {"x":0.5248,"y":176,"lo":112,"hi":243},
      {"x":0.5296,"y":174,"lo":121,"hi":230},
      {"x":0.5351,"y":152,"lo":95,"hi":211},
      {"x":0.5403,"y":193,"lo":167,"hi":227},
      {"x":0.5451,"y":197,"lo":170,"hi":227},
      {"x":0.5499,"y":187,"lo":127,"hi":241},
      {"x":0.5552,"y":233,"lo":184,"hi":281},
      {"x":0.5599,"y":195,"lo":175,"hi":218},
      {"x":0.5647,"y":201,"lo":147,"hi":254},
      {"x":0.5697,"y":173,"lo":109,"hi":238},
      {"x":0.5745,"y":181,"lo":138,"hi":237},
      {"x":0.5798,"y":194,"lo":150,"hi":233},
      {"x":0.5846,"y":164,"lo":98,"hi":228},
      {"x":0.5898,"y":157,"lo":138,"hi":198},
      {"x":0.595,"y":184,"lo":130,"hi":215},
      {"x":0.6001,"y":212,"lo":155,"hi":275},
      {"x":0.6049,"y":188,"lo":112,"hi":258},
      {"x":0.6101,"y":163,"lo":124,"hi":201},
      {"x":0.6152,"y":187,"lo":127,"hi":263},
      {"x":0.6199,"y":188,"lo":109,"hi":253},
      {"x":0.6252,"y":135,"lo":85,"hi":190},
      {"x":0.63,"y":176,"lo":130,"hi":227},
      {"x":0.6352,"y":183,"lo":109,"hi":255},
      {"x":0.64,"y":175,"lo":132,"hi":192},
      {"x":0.6448,"y":203,"lo":152,"hi":253},
      {"x":0.6496,"y":212,"lo":141,"hi":261},
      {"x":0.6543,"y":181,"lo":140,"hi":224},
      {"x":0.6591,"y":178,"lo":141,"hi":213},
      {"x":0.6646,"y":198,"lo":132,"hi":263},
      {"x":0.6694,"y":188,"lo":145,"hi":224},
      {"x":0.6749,"y":167,"lo":127,"hi":220},
      {"x":0.6803,"y":213,"lo":150,"hi":273},
      {"x":0.6855,"y":186,"lo":140,"hi":232},
      {"x":0.6903,"y":163,"lo":131,"hi":195},
      {"x":0.6951,"y":185,"lo":147,"hi":231},
      {"x":0.6999,"y":196,"lo":155,"hi":232},
      {"x":0.7046,"y":187,"lo":138,"hi":227},
      {"x":0.7101,"y":172,"lo":124,"hi":220},
      {"x":0.7149,"y":187,"lo":114,"hi":261},
      {"x":0.7197,"y":185,"lo":144,"hi":225},
      {"x":0.7252,"y":207,"lo":164,"hi":241},
      {"x":0.73,"y":213,"lo":172,"hi":270},
      {"x":0.7348,"y":218,"lo":155,"hi":260},
      {"x":0.74,"y":225,"lo":174,"hi":273},
      {"x":0.7448,"y":192,"lo":144,"hi":241},
      {"x":0.7496,"y":196,"lo":132,"hi":257},
      {"x":0.7548,"y":176,"lo":125,"hi":227},
      {"x":0.7596,"y":178,"lo":125,"hi":232},
      {"x":0.7644,"y":180,"lo":132,"hi":227},
      {"x":0.7692,"y":184,"lo":141,"hi":224},
      {"x":0.7747,"y":200,"lo":151,"hi":248},
      {"x":0.7794,"y":191,"lo":130,"hi":254},
      {"x":0.7849,"y":176,"lo":114,"hi":235},
      {"x":0.7897,"y":176,"lo":124,"hi":227},
      {"x":0.7945,"y":185,"lo":138,"hi":228},
      {"x":0.7998,"y":161,"lo":127,"hi":198},
      {"x":0.8045,"y":164,"lo":115,"hi":215},
      {"x":0.8098,"y":162,"lo":114,"hi":195},
      {"x":0.8146,"y":187,"lo":130,"hi":224},
      {"x":0.8201,"y":210,"lo":150,"hi":265},
      {"x":0.8249,"y":220,"lo":175,"hi":264},
      {"x":0.8296,"y":196,"lo":121,"hi":263},
      {"x":0.8344,"y":194,"lo":118,"hi":270},
      {"x":0.8399,"y":183,"lo":120,"hi":245},
      {"x":0.8447,"y":200,"lo":118,"hi":283},
      {"x":0.85,"y":201,"lo":158,"hi":227},
      {"x":0.8543,"y":192,"lo":132,"hi":250},
      {"x":0.86,"y":170,"lo":130,"hi":218},
      {"x":0.8648,"y":217,"lo":167,"hi":264},
      {"x":0.8703,"y":230,"lo":152,"hi":306},
      {"x":0.875,"y":195,"lo":132,"hi":253},
      {"x":0.8798,"y":184,"lo":141,"hi":228},
      {"x":0.8846,"y":181,"lo":132,"hi":227},
      {"x":0.8894,"y":170,"lo":115,"hi":223},
      {"x":0.8954,"y":143,"lo":91,"hi":198},
      {"x":0.9001,"y":200,"lo":138,"hi":244},
      {"x":0.9049,"y":182,"lo":130,"hi":230},
      {"x":0.9097,"y":184,"lo":131,"hi":250},
      {"x":0.915,"y":191,"lo":127,"hi":247},
      {"x":0.9197,"y":177,"lo":124,"hi":230},
      {"x":0.9245,"y":178,"lo":138,"hi":224},
      {"x":0.93,"y":160,"lo":99,"hi":224},
      {"x":0.9348,"y":182,"lo":151,"hi":255},
      {"x":0.9403,"y":188,"lo":150,"hi":227},
      {"x":0.9451,"y":203,"lo":147,"hi":254},
      {"x":0.9499,"y":176,"lo":135,"hi":210},
      {"x":0.9551,"y":169,"lo":131,"hi":210},
      {"x":0.9599,"y":186,"lo":137,"hi":235},
      {"x":0.9647,"y":163,"lo":115,"hi":210},
      {"x":0.9707,"y":174,"lo":109,"hi":238},
      {"x":0.9754,"y":154,"lo":91,"hi":224},
      {"x":0.9802,"y":207,"lo":144,"hi":267},
      {"x":0.9857,"y":160,"lo":120,"hi":207},
      {"x":0.9905,"y":204,"lo":167,"hi":247},
      {"x":0.9953,"y":237,"lo":175,"hi":296},
      {"x":1.0,"y":218,"lo":167,"hi":275}
    ]
  },
  "vconcat": [
    {
      "width": 1394,
      "height": 932,
      "title": {"text": "A", "dx": -233, "offset": 8},
      "data": {"name": "a"},
      "layer": [
        {
          "mark": {"type": "area", "fillOpacity": 0.2, "clip": true},
          "encoding": {
            "x": {"field": "x", "type": "quantitative", "scale": {"domain": [0, 1], "nice": false},
                  "axis": {"orient": "top", "values": [0.2, 0.4, 0.6, 0.8, 1.0], "labels": false, "title": null}},
            "y": {"field": "lo", "type": "quantitative", "scale": {"domain": [-200, 500], "nice": false},
                  "axis": {"orient": "right", "values": [-200, -100, 0, 100, 200, 300, 400, 500], "labels": false, "title": null}},
            "y2": {"field": "hi"},
            "fill": {"field": "s", "type": "nominal",
                     "scale": {"domain": ["No imitation", "Policy imitation only", "Advantage network only", "Full model"],
                               "range": ["#4C72B0", "#DD8452", "#55A868", "#C44E52"]},
                     "legend": {"title": null, "orient": "none", "legendX": 21, "legendY": 22, "zindex": 2}}
          }
        },
        {
          "mark": {"type": "line", "strokeWidth": 6.5, "strokeJoin": "round", "clip": true},
          "encoding": {
            "x": {"field": "x", "type": "quantitative",
                  "axis": {"orient": "bottom", "values": [0.2, 0.4, 0.6, 0.8, 1.0], "format": ".1f", "title": "Agent steps"}},
            "y": {"field": "y", "type": "quantitative",
                  "axis": {"orient": "left", "values": [-200, -100, 0, 100, 200, 300, 400, 500], "title": "Collective return", "labelPadding": 19, "titlePadding": 25}},
            "stroke": {"field": "s", "type": "nominal",
                       "scale": {"domain": ["No imitation", "Policy imitation only", "Advantage network only", "Full model"],
                                 "range": ["#4C72B0", "#DD8452", "#55A868", "#C44E52"]},
                       "legend": null}
          }
        },
        {
          "data": {"values": [{}]},
          "mark": {"type": "text", "align": "right", "baseline": "alphabetic", "dy": 130, "dx": 6, "fontSize": 44, "color": "#262626"},
          "encoding": {
            "x": {"datum": 1, "type": "quantitative", "axis": null},
            "y": {"datum": -200, "type": "quantitative", "axis": null},
            "text": {"value": "1e9"}
          }
        }
      ],
      "resolve": {"axis": {"x": "independent", "y": "independent"}}
    },
    {
      "width": 1394,
      "height": 932,
      "title": {"text": "B", "dx": -233, "offset": 12},
      "data": {"name": "b"},
      "layer": [
        {
          "mark": {"type": "area", "fillOpacity": 0.2, "clip": true},
          "encoding": {
            "x": {"field": "x", "type": "quantitative", "scale": {"domain": [0, 1], "nice": false},
                  "axis": {"orient": "top", "values": [0, 0.2, 0.4, 0.6, 0.8, 1.0], "labels": false, "title": null}},
            "y": {"field": "lo", "type": "quantitative", "scale": {"domain": [-200, 600], "nice": false},
                  "axis": {"orient": "right", "values": [-200, -100, 0, 100, 200, 300, 400, 500, 600], "labels": false, "title": null}},
            "y2": {"field": "hi"},
            "fill": {"datum": "Innovators after training", "type": "nominal",
                     "scale": {"range": ["#4C72B0"]},
                     "legend": {"title": null, "orient": "top-right", "offset": 22, "zindex": 2}}
          }
        },
        {
          "mark": {"type": "line", "strokeWidth": 5.5, "strokeJoin": "round", "color": "#4C72B0", "clip": true},
          "encoding": {
            "x": {"field": "x", "type": "quantitative",
                  "axis": {"orient": "bottom", "values": [0, 0.2, 0.4, 0.6, 0.8, 1.0], "format": ".1f", "title": "Agent steps"}},
            "y": {"field": "y", "type": "quantitative",
                  "axis": {"orient": "left", "values": [-200, -100, 0, 100, 200, 300, 400, 500, 600], "title": "Collective reward", "labelPadding": 19, "titlePadding": 25}}
          }
        },
        {
          "data": {"values": [{}]},
          "mark": {"type": "text", "align": "right", "baseline": "alphabetic", "dy": 130, "dx": 6, "fontSize": 44, "color": "#262626"},
          "encoding": {
            "x": {"datum": 1, "type": "quantitative", "axis": null},
            "y": {"datum": -200, "type": "quantitative", "axis": null},
            "text": {"value": "1e7"}
          }
        }
      ],
      "resolve": {"axis": {"x": "independent", "y": "independent"}}
    }
  ]
}
